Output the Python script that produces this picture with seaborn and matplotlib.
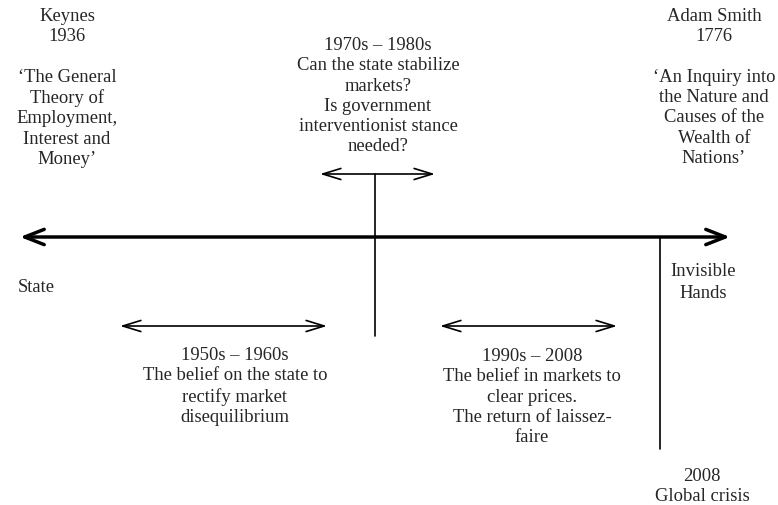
import matplotlib
matplotlib.use("Agg")
import matplotlib.pyplot as plt
import seaborn as sns

# textos do diagrama
keynes_txt = "Keynes\n1936\n\n\u2018The General\nTheory of\nEmployment,\nInterest and\nMoney\u2019"
smith_txt = "Adam Smith\n1776\n\n\u2018An Inquiry into\nthe Nature and\nCauses of the\nWealth of\nNations\u2019"
periodo_70 = "1970s \u2013 1980s\nCan the state stabilize\nmarkets?\nIs government\ninterventionist stance\nneeded?"
periodo_50 = "1950s \u2013 1960s\nThe belief on the state to\nrectify market\ndisequilibrium"
periodo_90 = "1990s \u2013 2008\nThe belief in markets to\nclear prices.\nThe return of laissez-\nfaire"
crise_txt = "2008\nGlobal crisis"
lado_esq = "State"
lado_dir = "Invisible\nHands"

sns.set_style("white")
plt.rcParams['font.family'] = ['Liberation Serif', 'DejaVu Serif']

fig = plt.figure(figsize=(7.78, 5.06), dpi=100)
ax = fig.add_axes([0, 0, 1, 1])
ax.set_xlim(0, 778)
ax.set_ylim(506, 0)
ax.axis('off')

fs = 13.4
ls = 1.25


def seta(x0, x1, y, lw, hl, hw):
    ax.annotate("", xy=(x0, y), xytext=(x1, y),
                arrowprops=dict(arrowstyle=f"<->,head_length={hl},head_width={hw}",
                                lw=lw, color="black", shrinkA=0, shrinkB=0))


# eixo principal
seta(20, 730, 238, 2.5, 1.4, 0.55)
# setas menores
seta(320, 435, 175, 1.2, 1.3, 0.4)
seta(120, 327, 327, 1.2, 1.3, 0.4)
seta(440, 617, 327, 1.2, 1.3, 0.4)
# linhas verticais
ax.plot([375, 375], [175, 337], color="black", lw=1.2)
ax.plot([660, 660], [238, 450], color="black", lw=1.2)

ax.text(67, 8, keynes_txt, ha="center", va="top", fontsize=fs, linespacing=ls)
ax.text(714, 8, smith_txt, ha="center", va="top", fontsize=fs, linespacing=ls)
ax.text(378, 37, periodo_70, ha="center", va="top", fontsize=fs, linespacing=ls)
ax.text(235, 347, periodo_50, ha="center", va="top", fontsize=fs, linespacing=ls)
ax.text(532, 348, periodo_90, ha="center", va="top", fontsize=fs, linespacing=ls)
ax.text(702, 468, crise_txt, ha="center", va="top", fontsize=fs, linespacing=ls)
ax.text(18, 287, lado_esq, ha="left", va="center", fontsize=fs)
ax.text(703, 263, lado_dir, ha="center", va="top", fontsize=fs, linespacing=1.35)

fig.savefig("out.png", dpi=100, facecolor="white")
